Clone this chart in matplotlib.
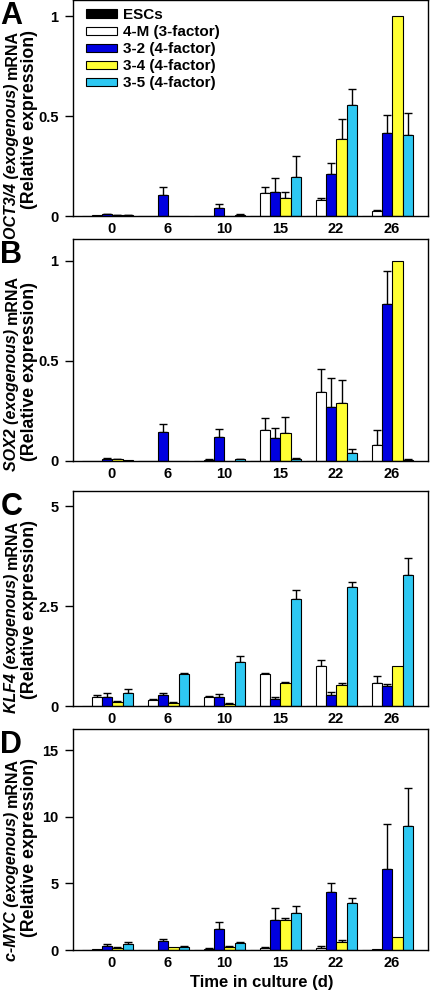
import matplotlib
matplotlib.use("Agg")
import matplotlib.pyplot as plt
import numpy as np

plt.rcParams['font.family'] = ['Liberation Sans', 'DejaVu Sans']
plt.rcParams['font.weight'] = 'bold'

days = ["0", "6", "10", "15", "22", "26"]
series = ["ESCs", "4-M (3-factor)", "3-2 (4-factor)", "3-4 (4-factor)", "3-5 (4-factor)"]
colors = ["#000000", "#ffffff", "#0000e0", "#ffff33", "#2ec8f2"]

# Panel A: OCT3/4
oct_vals = [
    [0, 0, 0, 0, 0, 0],
    [0.003, 0.002, 0.002, 0.115, 0.078, 0.025],
    [0.010, 0.103, 0.040, 0.120, 0.208, 0.415],
    [0.004, 0.002, 0.001, 0.090, 0.387, 1.0],
    [0.003, 0.002, 0.005, 0.195, 0.555, 0.407],
]
oct_err = [
    [0, 0, 0, 0, 0, 0],
    [0, 0, 0, 0.030, 0.010, 0.007],
    [0.002, 0.042, 0.018, 0.068, 0.057, 0.090],
    [0.001, 0, 0, 0.032, 0.100, 0],
    [0.001, 0, 0.003, 0.103, 0.078, 0.108],
]
# Panel B: SOX2
sox_vals = [
    [0, 0, 0, 0, 0, 0],
    [0.002, 0.002, 0.006, 0.157, 0.344, 0.078],
    [0.012, 0.145, 0.120, 0.117, 0.272, 0.783],
    [0.008, 0.002, 0.002, 0.142, 0.289, 1.0],
    [0.003, 0.002, 0.008, 0.012, 0.038, 0.006],
]
sox_err = [
    [0, 0, 0, 0, 0, 0],
    [0, 0, 0.002, 0.060, 0.115, 0.079],
    [0.002, 0.040, 0.042, 0.047, 0.144, 0.164],
    [0.002, 0, 0, 0.078, 0.113, 0],
    [0, 0, 0.002, 0.004, 0.022, 0.002],
]
# Panel C: KLF4
klf_vals = [
    [0.01, 0.01, 0.01, 0.01, 0.01, 0.01],
    [0.217, 0.150, 0.217, 0.794, 1.003, 0.577],
    [0.234, 0.276, 0.226, 0.167, 0.284, 0.502],
    [0.092, 0.067, 0.050, 0.577, 0.535, 1.0],
    [0.318, 0.794, 1.095, 2.676, 2.985, 3.286],
]
klf_err = [
    [0, 0, 0, 0, 0, 0],
    [0.067, 0.017, 0.033, 0.034, 0.142, 0.176],
    [0.084, 0.058, 0.083, 0.067, 0.067, 0.041],
    [0.042, 0.025, 0.017, 0.033, 0.050, 0],
    [0.108, 0.034, 0.159, 0.234, 0.109, 0.418],
]
# Panel D: c-MYC
myc_vals = [
    [0.02, 0.02, 0.02, 0.02, 0.02, 0.02],
    [0.05, 0.03, 0.075, 0.125, 0.15, 0.05],
    [0.30, 0.65, 1.55, 2.25, 4.375, 6.05],
    [0.15, 0.20, 0.20, 2.225, 0.625, 1.0],
    [0.475, 0.25, 0.50, 2.75, 3.50, 9.30],
]
myc_err = [
    [0, 0, 0, 0, 0, 0],
    [0, 0, 0.10, 0.10, 0.175, 0],
    [0.15, 0.175, 0.575, 0.90, 0.625, 3.45],
    [0.10, 0, 0.075, 0.15, 0.125, 0],
    [0.15, 0.075, 0.075, 0.525, 0.425, 2.85],
]

panels = [
    dict(letter="A", gene="OCT3/4", vals=oct_vals, err=oct_err, ylim=1.08,
         ticks=[0, 0.5, 1], labels=["0", "0.5", "1"], box=(0, 216), lab_top=(30, 30)),
    dict(letter="B", gene="SOX2", vals=sox_vals, err=sox_err, ylim=1.108,
         ticks=[0, 0.5, 1], labels=["0", "0.5", "1"], box=(239, 461), lab_top=(275, 282)),
    dict(letter="C", gene="KLF4", vals=klf_vals, err=klf_err, ylim=5.375,
         ticks=[0, 2.5, 5], labels=["0", "2.5", "5"], box=(491, 706), lab_top=(520, 520)),
    dict(letter="D", gene="c-MYC", vals=myc_vals, err=myc_err, ylim=16.6,
         ticks=[0, 5, 10, 15], labels=["0", "5", "10", "15"], box=(729, 950), lab_top=(758, 758)),
]

W, H = 430, 993
fig = plt.figure(figsize=(W / 100, H / 100), dpi=100)
renderer = fig.canvas.get_renderer()

left_px, right_px = 73, 428
bw = 0.179
x = np.arange(len(days))


def vtext_parts(xc_px, top_px, parts, size):
    # parts: list of (string, style); stacked bottom-to-top, top aligned at top_px
    heights = []
    objs = []
    for s, st in parts:
        t = fig.text(0, 0, s, rotation=90, fontstyle=st, fontweight='bold',
                     fontsize=size, ha='center', va='bottom')
        heights.append(t.get_window_extent(renderer).height)
        objs.append(t)
    gap = 0.28 * size * 100 / 72
    total = sum(heights) + gap * (len(parts) - 1)
    y = H - top_px - total
    for t, h in zip(objs, heights):
        t.set_position((xc_px / W, y / H))
        y += h + gap


for p in panels:
    top, bot = p["box"]
    ax = fig.add_axes([left_px / W, 1 - bot / H, (right_px - left_px) / W, (bot - top) / H])
    for k in range(5):
        pos = x + (k - 2.45) * bw
        ax.bar(pos, p["vals"][k], width=bw, color=colors[k], edgecolor='black',
               linewidth=0.8, label=series[k], zorder=2)
        e = np.array(p["err"][k])
        v = np.array(p["vals"][k])
        m = e > 0
        if m.any():
            ax.errorbar(pos[m], v[m], yerr=[np.zeros(m.sum()), e[m]], fmt='none',
                        ecolor='black', elinewidth=1.0, capsize=3, capthick=1.0, zorder=1)
    ax.set_xlim(-0.696, 5.643)
    ax.set_ylim(0, p["ylim"])
    ax.set_xticks(x)
    ax.set_xticklabels(days)
    ax.set_yticks(p["ticks"])
    ax.set_yticklabels(p["labels"])
    ax.tick_params(axis='x', length=0, pad=4, labelsize=10.5)
    ax.tick_params(axis='y', length=6, width=1, pad=4.5, labelsize=10.5, direction='out')
    for lab in ax.get_xticklabels() + ax.get_yticklabels():
        lab.set_fontweight('bold')
    for s in ax.spines.values():
        s.set_linewidth(1.0)
    if p["letter"] == "A":
        leg = ax.legend(loc='upper left', bbox_to_anchor=((86 - left_px) / (right_px - left_px), 1 - 8 / 216),
                        borderaxespad=0, frameon=False, fontsize=11, handlelength=2.0,
                        handleheight=0.45, handletextpad=0.4, labelspacing=0.2, borderpad=0)
        for t in leg.get_texts():
            t.set_fontweight('bold')
    # panel letter
    fig.text(0.5 / W, 1 - (top + 1) / H, p["letter"], fontsize=22, fontweight='bold',
             ha='left', va='top')
    # y label
    t1, t2 = p["lab_top"]
    vtext_parts(12, t1, [(p["gene"] + " (exogenous)", 'italic'), ("mRNA", 'normal')], 11.5)
    vtext_parts(29, t2, [("(Relative expression)", 'normal')], 12.8)

fig.text(262 / W, 1 - 983 / H, "Time in culture (d)", fontsize=12, fontweight='bold',
         ha='center', va='center')

fig.savefig("out.png", dpi=100)
